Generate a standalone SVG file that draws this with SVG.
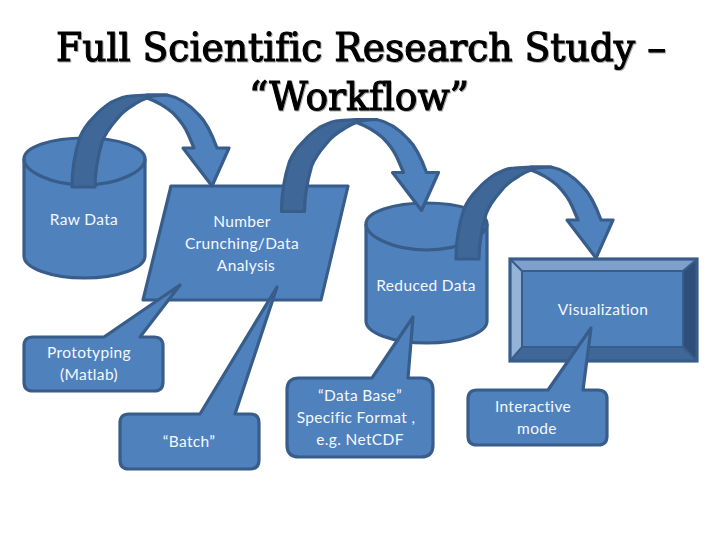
<svg xmlns="http://www.w3.org/2000/svg" width="720" height="540" viewBox="0 0 720 540">
<style>
.s{fill:#4f81bd;stroke:#385d8a;stroke-width:3.2;stroke-linejoin:round}
.d{fill:#3f6797;stroke:#385d8a;stroke-width:3.2;stroke-linejoin:round}
.t{font-family:Lato,"Open Sans",sans-serif;font-size:15.5px;fill:#f4f8ff;text-anchor:middle;letter-spacing:.35px}
.h{font-family:"DejaVu Serif",serif;font-size:39px;font-variant-ligatures:none;fill:#000;stroke:#000;stroke-width:1.1px;filter:drop-shadow(1.5px 1.5px 0.5px #a8a8a8)}
</style>
<defs>
<g id="cyl">
<path class="s" d="M0 20V117C0 129 27 139 60.500 139S121 129 121 117V20C121 8 94 -1 60.500 -1S0 8 0 20Z"/>
<path class="s" style="fill:none" d="M0 20C0 32 27 46 60.500 46S121 32 121 20"/>
</g>
<g id="arc">
<path class="s" d="M147 98C158 102 166 107 173 113C180 120 185 127 188 134L194 148H183L212 186L229 148H217C213 137 207 123 199 115C190 105 178 97 167 95H147Z"/>
<path class="d" d="M72 187C72 168 75 152 80 137C84 128 88 123 93 118C98 112 104 107 110 103C116 100 123 96 130 96L147 95L167 95C158 95 152 96 147 98C141 100 138 102 135 104C128 108 122 112 117 119C110 127 105 134 102 142C98 156 95 170 95 187Z"/>
</g>
</defs>
<g id="title"><text class="h" x="56" y="61" textLength="610" lengthAdjust="spacingAndGlyphs">Full Scientific Research Study –</text><text class="h" x="249" y="110" textLength="220" lengthAdjust="spacingAndGlyphs">“Workflow”</text></g>
<g id="raw-data"><use href="#cyl" x="24" y="139"/><text class="t" x="84" y="225">Raw Data</text></g>
<g id="number-crunching"><path class="s" d="M171 186H348L321 300H143Z"/><text class="t" x="242" y="227">Number</text><text class="t" x="242" y="249">Crunching/Data</text><text class="t" x="246" y="271">Analysis</text></g>
<g id="reduced-data"><use href="#cyl" x="366" y="204"/><text class="t" x="426" y="291">Reduced Data</text></g>
<g id="visualization">
<rect x="510" y="259" width="187" height="102" fill="#4f81bd"/>
<path d="M510 259H697L683 271H522Z" fill="#7da0cd"/>
<path d="M510 259L522 271V347L510 361Z" fill="#95b2d7"/>
<path d="M697 259L683 271V347L697 361Z" fill="#2f4f7a"/>
<path d="M510 361L522 347H683L697 361Z" fill="#3f6797"/>
<rect x="522" y="271" width="161" height="76" fill="#4f81bd" stroke="#385d8a" stroke-width="2"/>
<rect x="510" y="259" width="187" height="102" fill="none" stroke="#385d8a" stroke-width="3.200"/>
<path d="M510 259L522 271M697 259L683 271M510 361L522 347M697 361L683 347" stroke="#385d8a" stroke-width="2"/>
<text class="t" x="603" y="315">Visualization</text></g>
<g id="connectors">
<use href="#arc"/>
<use href="#arc" x="209.500" y="24.500"/>
<use href="#arc" x="384" y="72"/>
</g>
<g id="prototyping"><path class="s" d="M33 337H104L180 285L140 337H154Q163 337 163 346V382Q163 391 154 391H33Q24 391 24 382V346Q24 337 33 337Z"/><text class="t" x="89" y="358">Prototyping</text><text class="t" x="89" y="380">(Matlab)</text></g>
<g id="batch"><path class="s" d="M129 414H200L277 287L235 414H250Q259 414 259 423V460Q259 469 250 469H129Q120 469 120 460V423Q120 414 129 414Z"/><text class="t" x="189" y="447">“Batch”</text></g>
<g id="data-base"><path class="s" d="M299 378H372L413 317L408 378H421Q433 378 433 390V445Q433 457 421 457H299Q287 457 287 445V390Q287 378 299 378Z"/><text class="t" x="360" y="401">“Data Base”</text><text class="t" x="356" y="423">Specific Format ,</text><text class="t" x="360" y="445">e.g. NetCDF</text></g>
<g id="interactive"><path class="s" d="M477 390H548L591 328L583 390H598Q607 390 607 399V436Q607 445 598 445H477Q468 445 468 436V399Q468 390 477 390Z"/><text class="t" x="533" y="412">Interactive</text><text class="t" x="537" y="434">mode</text></g>
</svg>
